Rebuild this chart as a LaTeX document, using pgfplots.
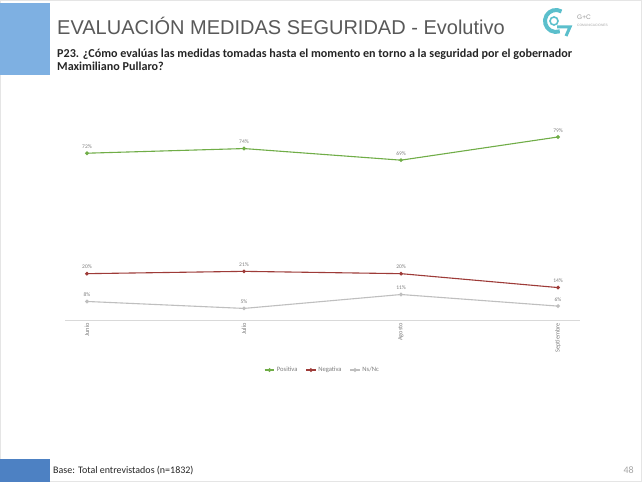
\documentclass[border=0pt]{standalone}
\usepackage{fontspec}
\setmainfont{Carlito}
\newfontfamily\arialfont{Liberation Sans}
\usepackage{pgfplots}
\pgfplotsset{compat=1.18}
\definecolor{topblue}{HTML}{7EB0E2}
\definecolor{botblue}{HTML}{4D81C3}
\definecolor{titlegray}{HTML}{595959}
\definecolor{qtext}{HTML}{262626}
\definecolor{labelgray}{HTML}{7F7F7F}
\definecolor{axisgray}{HTML}{D9D9D9}
\definecolor{posgreen}{HTML}{70AD47}
\definecolor{negred}{HTML}{9E3B38}
\definecolor{nsgray}{HTML}{BFBFBF}
\definecolor{logoteal}{HTML}{5BBFCC}

\begin{document}
\begin{tikzpicture}
\begin{scope}[x=1pt,y=1pt]
\path[use as bounding box] (0,0) rectangle (642,482);
\fill[white] (0,0) rectangle (642,482);
\draw[gray!20, line width=0.6pt] (0.3,0.3) rectangle (641.7,481.7);
\fill[topblue] (0,479) rectangle (50,407);
\fill[botblue] (0,0) rectangle (50,23);
% title
\node[anchor=base west, inner sep=0, text=titlegray, font=\arialfont\fontsize{20}{24}\selectfont] at (57,447.7) {EVALUACIÓN MEDIDAS SEGURIDAD - Evolutivo};
\node[anchor=base west, inner sep=0, text=qtext, font=\bfseries\fontsize{12.1}{14}\selectfont] at (57,424.7) {P23. ¿Cómo evalúas las medidas tomadas hasta el momento en torno a la seguridad por el gobernador};
\node[anchor=base west, inner sep=0, text=qtext, font=\bfseries\fontsize{12.1}{14}\selectfont] at (57,411) {Maximiliano Pullaro?};
% footer
\node[anchor=base west, inner sep=0, text=qtext, font=\fontsize{10}{12}\selectfont] at (53,8.5) {Base: Total entrevistados (n=1832)};
\node[anchor=base east, inner sep=0, text=gray!70, font=\fontsize{10}{12}\selectfont] at (634,8.5) {48};
% logo
\draw[logoteal, line width=4pt] (556,461) ++(60:11) arc (60:290:11);
\draw[logoteal, line width=1.6pt] (554,461) circle (4);
\draw[logoteal, line width=3pt] (557,455) -- (570,455) -- (566,446);
\node[anchor=base west, inner sep=0, text=gray!80, font=\arialfont\fontsize{6.5}{7}\selectfont] at (577,462) {G+C};
\node[anchor=base west, inner sep=0, text=gray!70, font=\arialfont\fontsize{3.3}{4}\selectfont] at (577,455.5) {COMUNICACIONES};
\end{scope}
% chart
\begin{axis}[
  at={(65pt,162pt)}, anchor=south west,
  scale only axis, width=515pt, height=208.5pt,
  xmin=-0.14, xmax=3.14, ymin=0, ymax=90,
  axis y line=none,
  axis x line*=bottom,
  x axis line style={draw=axisgray, line width=0.6pt, -},
  xtick={0,1,2,3},
  xticklabels={Junio,Julio,Agosto,Septiembre},
  major tick length=0pt,
  xticklabel style={rotate=90, anchor=east, font=\fontsize{6.3}{7}\selectfont, text=labelgray, inner sep=3pt},
  clip=false,
  /pgf/number format/assume math mode=true,
  nodes near coords={\pgfmathprintnumber{\pgfplotspointmeta}\%},
  nodes near coords style={font=\fontsize{5.5}{6}\selectfont, text=labelgray, anchor=south, yshift=1pt},
  every axis plot/.append style={line width=1.1pt, mark=*, mark size=1.3pt},
  legend style={at={(0.5,-0.24)}, anchor=center, legend columns=-1, draw=none, fill=none,
    font=\fontsize{6.6}{7}\selectfont, text=labelgray,
    /tikz/every even column/.append style={column sep=6pt}},
  legend image code/.code={\draw[mark repeat=2,mark phase=2] plot coordinates {(0cm,0cm) (0.17cm,0cm) (0.34cm,0cm)};},
]
\addplot[color=posgreen, mark options={fill=posgreen}] coordinates {(0,72) (1,74) (2,69) (3,79)};
\addlegendentry{Positiva}
\addplot[color=negred, mark options={fill=negred}] coordinates {(0,20) (1,21) (2,20) (3,14)};
\addlegendentry{Negativa}
\addplot[color=nsgray, mark options={fill=nsgray}] coordinates {(0,8) (1,5) (2,11) (3,6)};
\addlegendentry{Ns/Nc}
\end{axis}
\end{tikzpicture}
\end{document}
